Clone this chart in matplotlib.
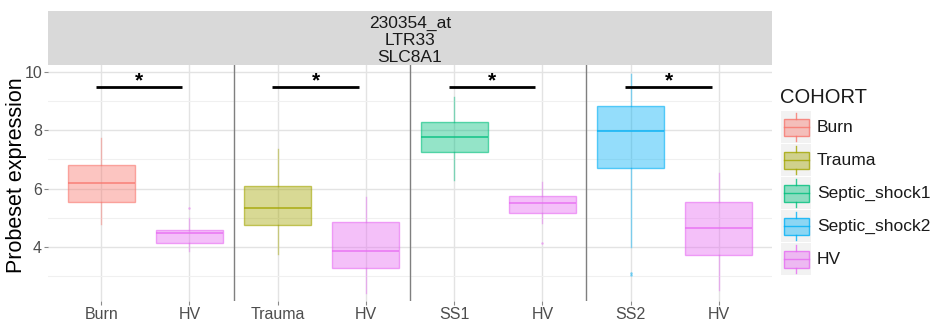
import matplotlib
matplotlib.use("Agg")
import matplotlib.pyplot as plt
from matplotlib.patches import Rectangle
from matplotlib.lines import Line2D

plt.rcParams['font.family'] = ['Liberation Sans', 'DejaVu Sans']

# ---- data ----
tick_labels = ["Burn", "HV", "Trauma", "HV", "SS1", "HV", "SS2", "HV"]
groups = ["Burn", "HV", "Trauma", "HV", "Septic_shock1", "HV", "Septic_shock2", "HV"]
whislo = [4.78, 3.87, 3.76, 2.45, 6.30, 4.84, 3.99, 2.52]
q1     = [5.56, 4.16, 4.76, 3.29, 7.27, 5.16, 6.71, 3.73]
med    = [6.19, 4.47, 5.34, 3.86, 7.76, 5.50, 7.97, 4.64]
q3     = [6.80, 4.58, 6.08, 4.86, 8.29, 5.75, 8.84, 5.53]
whishi = [7.75, 4.99, 7.35, 5.70, 9.12, 6.23, 9.92, 6.55]
fliers = [[], [5.33], [], [], [], [4.13], [3.13, 3.04], []]

cohorts = ["Burn", "Trauma", "Septic_shock1", "Septic_shock2", "HV"]
cohort_colors = ["#F8766D", "#A3A500", "#00BF7D", "#00B0F6", "#E76BF3"]
color_of = dict(zip(cohorts, cohort_colors))

sig_pairs = [(0, 1), (2, 3), (4, 5), (6, 7)]
sig_y = 9.47
sig_label = "*"
separators = [1.5, 3.5, 5.5]

strip_text = "230354_at\nLTR33\nSLC8A1"
ylabel = "Probeset expression"

# ---- figure ----
W, H = 934, 322
fig = plt.figure(figsize=(W / 100, H / 100), dpi=100)

px0, px1, py0, py1 = 48.3, 771.7, 65, 301
ax = fig.add_axes([px0 / W, 1 - py1 / H, (px1 - px0) / W, (py1 - py0) / H])
sax = fig.add_axes([px0 / W, 1 - py0 / H, (px1 - px0) / W, (py0 - 11) / H])

# strip
sax.set_facecolor("#D9D9D9")
sax.set_xticks([]); sax.set_yticks([])
for s in sax.spines.values():
    s.set_visible(False)
sax.text(0.5, 0.45, strip_text, ha="center", va="center", fontsize=12.5,
         linespacing=1.15, color="#1A1A1A", transform=sax.transAxes)

# grid
ax.set_xlim(-0.6, 7.6)
ax.set_ylim(2.16, 10.23)
ax.set_yticks([4, 6, 8, 10])
ax.set_yticks([3, 5, 7, 9], minor=True)
ax.set_xticks(range(len(tick_labels)))
ax.set_xticklabels(tick_labels)
ax.grid(True, which="major", axis="both", color="#E3E3E3", lw=1.0, zorder=0)
ax.grid(True, which="minor", axis="y", color="#F0F0F0", lw=0.8, zorder=0)
ax.set_axisbelow(True)
for s in ax.spines.values():
    s.set_visible(False)
ax.tick_params(axis="both", which="major", colors="#8A8A8A", labelsize=11.5,
               length=3, width=0.8, pad=1.5)
ax.tick_params(axis="x", labelsize=11.5, pad=1.5)
ax.tick_params(which="minor", length=0)
for lab in ax.get_xticklabels() + ax.get_yticklabels():
    lab.set_color("#4D4D4D")
ax.set_ylabel(ylabel, fontsize=15.5, color="black")
ax.yaxis.set_label_coords(-0.044, 0.535)
ax.yaxis.label.set_verticalalignment("center")

for xs in separators:
    ax.axvline(xs, color="#7F7F7F", lw=1.0, zorder=1)

# boxes
stats = []
for i in range(len(groups)):
    stats.append(dict(whislo=whislo[i], q1=q1[i], med=med[i], q3=q3[i],
                      whishi=whishi[i], fliers=fliers[i]))
for i, st in enumerate(stats):
    c = color_of[groups[i]]
    ax.bxp([st], positions=[i], widths=0.76, patch_artist=True, showcaps=False,
           boxprops=dict(facecolor=matplotlib.colors.to_rgba(c, 0.42),
                         edgecolor=matplotlib.colors.to_rgba(c, 0.6), lw=1.0),
           medianprops=dict(color=matplotlib.colors.to_rgba(c, 0.75), lw=1.3),
           whiskerprops=dict(color=matplotlib.colors.to_rgba(c, 0.45), lw=1.0),
           flierprops=dict(marker="o", markersize=1.8, markerfacecolor=matplotlib.colors.to_rgba(c, 0.5),
                           markeredgecolor="none"),
           manage_ticks=False, zorder=3)

# significance
for a, b in sig_pairs:
    ax.plot([a - 0.06, b - 0.08], [sig_y, sig_y], color="black", lw=2.0, zorder=4,
            solid_capstyle="butt")
    ax.text((a + b) / 2 - 0.07, sig_y + 0.2, sig_label, ha="center", va="center",
            fontsize=15, fontweight="bold", color="black", zorder=4)

# legend (drawn in pixel coordinates)
lax = fig.add_axes([0, 0, 1, 1], facecolor="none")
lax.set_xlim(0, W); lax.set_ylim(H, 0)
lax.axis("off")
lax.text(780, 97, "COHORT", fontsize=14.5, va="center", ha="left", color="#1A1A1A")
key_top0, key_h = 110.7, 33.0
for k, (name, c) in enumerate(zip(cohorts, cohort_colors)):
    t = key_top0 + k * key_h
    lax.add_patch(Rectangle((781, t), 30, 32, facecolor="#F2F2F2", edgecolor="none"))
    cx = 796
    lax.add_patch(Rectangle((783.5, t + 8), 25, 17,
                            facecolor=matplotlib.colors.to_rgba(c, 0.42),
                            edgecolor=matplotlib.colors.to_rgba(c, 0.8), lw=1.0))
    lax.add_line(Line2D([783.5, 808.5], [t + 16.5, t + 16.5], color=c, lw=1.0, alpha=0.8))
    lax.add_line(Line2D([cx, cx], [t + 2, t + 8], color=c, lw=1.0, alpha=0.8))
    lax.add_line(Line2D([cx, cx], [t + 25, t + 30], color=c, lw=1.0, alpha=0.8))
    lax.text(817, t + 16.5, name, fontsize=12.5, va="center", ha="left", color="#1A1A1A")

fig.savefig("out.png", dpi=100)
